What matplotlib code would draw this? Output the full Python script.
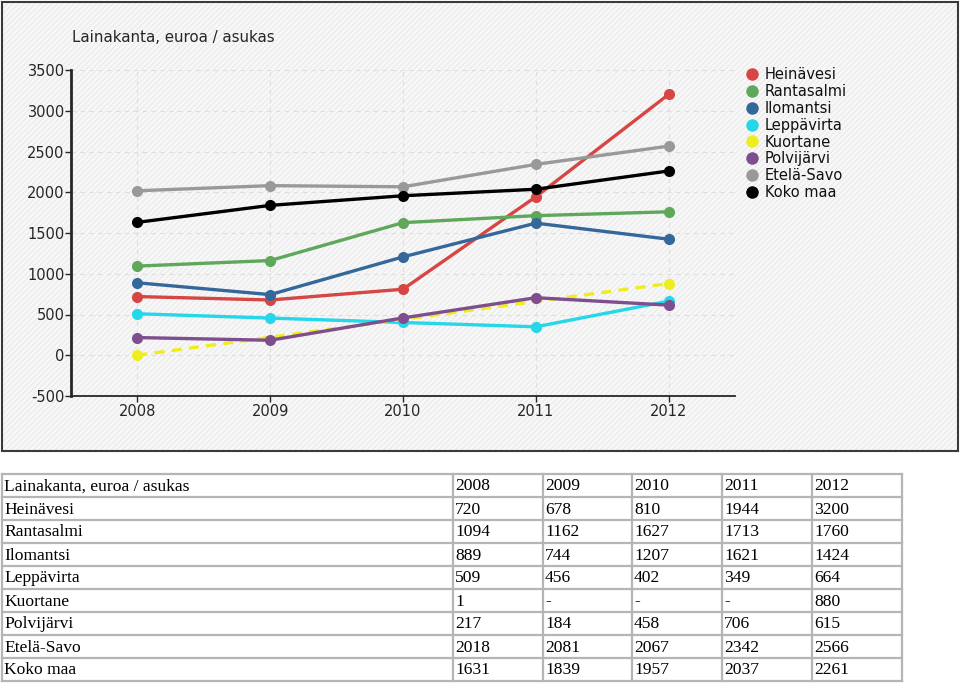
import matplotlib
matplotlib.use("Agg")
import matplotlib.pyplot as plt
from matplotlib.patches import Rectangle
from matplotlib.lines import Line2D

# ---------------- data ----------------
title = "Lainakanta, euroa / asukas"
years = [2008, 2009, 2010, 2011, 2012]
series_names = ["Heinävesi", "Rantasalmi", "Ilomantsi", "Leppävirta",
                "Kuortane", "Polvijärvi", "Etelä-Savo", "Koko maa"]
heinavesi = [720, 678, 810, 1944, 3200]
rantasalmi = [1094, 1162, 1627, 1713, 1760]
ilomantsi = [889, 744, 1207, 1621, 1424]
leppavirta = [509, 456, 402, 349, 664]
kuortane = [1, None, None, None, 880]
polvijarvi = [217, 184, 458, 706, 615]
etela_savo = [2018, 2081, 2067, 2342, 2566]
koko_maa = [1631, 1839, 1957, 2037, 2261]
series_values = [heinavesi, rantasalmi, ilomantsi, leppavirta,
                 kuortane, polvijarvi, etela_savo, koko_maa]
colors = ["#d54644", "#5fa85b", "#35689a", "#26d6e9",
          "#eded1f", "#7e4e8e", "#999999", "#000000"]
yticks = [-500, 0, 500, 1000, 1500, 2000, 2500, 3000, 3500]

W, H = 960, 683
fig = plt.figure(figsize=(W / 100, H / 100), dpi=100)
fig.patch.set_facecolor("white")

def fx(px):
    return px / W

def fy(py):
    return 1 - py / H

# chart panel background (light hatched) and border
bg = Rectangle((fx(2), fy(451)), fx(956), (449) / H, transform=fig.transFigure,
               facecolor="#f8f8f8", edgecolor="#ececec", linewidth=0, hatch="//////",
               zorder=-10)
fig.add_artist(bg)
border = Rectangle((fx(2), fy(451)), fx(956), (449) / H, transform=fig.transFigure,
                   fill=False, edgecolor="#3a3a3a", linewidth=1.5, zorder=-9)
fig.add_artist(border)

# ---------------- chart ----------------
ax = fig.add_axes([fx(71), fy(396), fx(735 - 71), (396 - 70) / H])
ax.set_facecolor("none")
ax.set_zorder(2)
for name, vals, c in zip(series_names, series_values, colors):
    xs = [x for x, v in zip(years, vals) if v is not None]
    ys = [v for v in vals if v is not None]
    if None in vals:
        ax.plot(xs, ys, color=c, linewidth=2.4, linestyle=(0, (3, 2.2)), marker="o",
                markersize=8, markeredgewidth=0, label=name, zorder=3)
    else:
        ax.plot(xs, ys, color=c, linewidth=2.4, linestyle="-", marker="o",
                markersize=8, markeredgewidth=0, label=name, zorder=3)

ax.set_xlim(2007.5, 2012.5)
ax.set_ylim(-500, 3500)
ax.set_xticks(years)
ax.set_xticklabels([str(y) for y in years])
ax.set_yticks(yticks)
ax.set_yticklabels([str(t) for t in yticks])
ax.grid(True, color="#dedede", linestyle=(0, (4, 4)), linewidth=0.8, zorder=0)
for s in ["top", "right"]:
    ax.spines[s].set_visible(False)
ax.spines["left"].set_color("#262626")
ax.spines["left"].set_linewidth(2.0)
ax.spines["bottom"].set_color("#262626")
ax.spines["bottom"].set_linewidth(1.3)
ax.tick_params(axis="both", labelsize=10.5, colors="#262626", length=4, width=1)
ax.tick_params(axis="y", pad=0.5)
ax.tick_params(axis="x", pad=2)

fig.text(fx(72), fy(38), title, fontsize=10.8, color="#262626", va="center", ha="left")

handles = [Line2D([], [], color=c, marker="o", linestyle="none", markersize=9,
                  markeredgewidth=0) for c in colors]
leg = fig.legend(handles, series_names, loc="upper left",
                 bbox_to_anchor=(fx(743), fy(67)), frameon=False,
                 fontsize=10.5, handletextpad=0.3, labelspacing=0.13,
                 handlelength=1.2, borderpad=0, borderaxespad=0)
leg.set_zorder(5)
for t in leg.get_texts():
    t.set_color("#111111")

# ---------------- table ----------------
tab = fig.add_axes([0, 0, 1, 1])
tab.set_xlim(0, W)
tab.set_ylim(H, 0)
tab.axis("off")
tab.set_zorder(1)
col_edges = [2, 453, 543, 632, 722, 812, 902]
top, row_h = 474, 23
header = [title] + [str(y) for y in years]
rows = [header] + [[n] + ["-" if v is None else str(v) for v in vals]
                   for n, vals in zip(series_names, series_values)]
nrows = len(rows)
line_kw = dict(color="#b5b5b5", linewidth=1.6)
for i in range(nrows + 1):
    yy = top + i * row_h
    tab.plot([col_edges[0], col_edges[-1]], [yy, yy], **line_kw)
for xx in col_edges:
    tab.plot([xx, xx], [top, top + nrows * row_h], **line_kw)
for i, row in enumerate(rows):
    yc = top + i * row_h + row_h / 2 + 1
    for j, txt in enumerate(row):
        tab.text(col_edges[j] + 2, yc, txt, fontsize=12.6, family="Liberation Serif",
                 va="center", ha="left", color="#000000")

fig.savefig("out.png", dpi=100)
